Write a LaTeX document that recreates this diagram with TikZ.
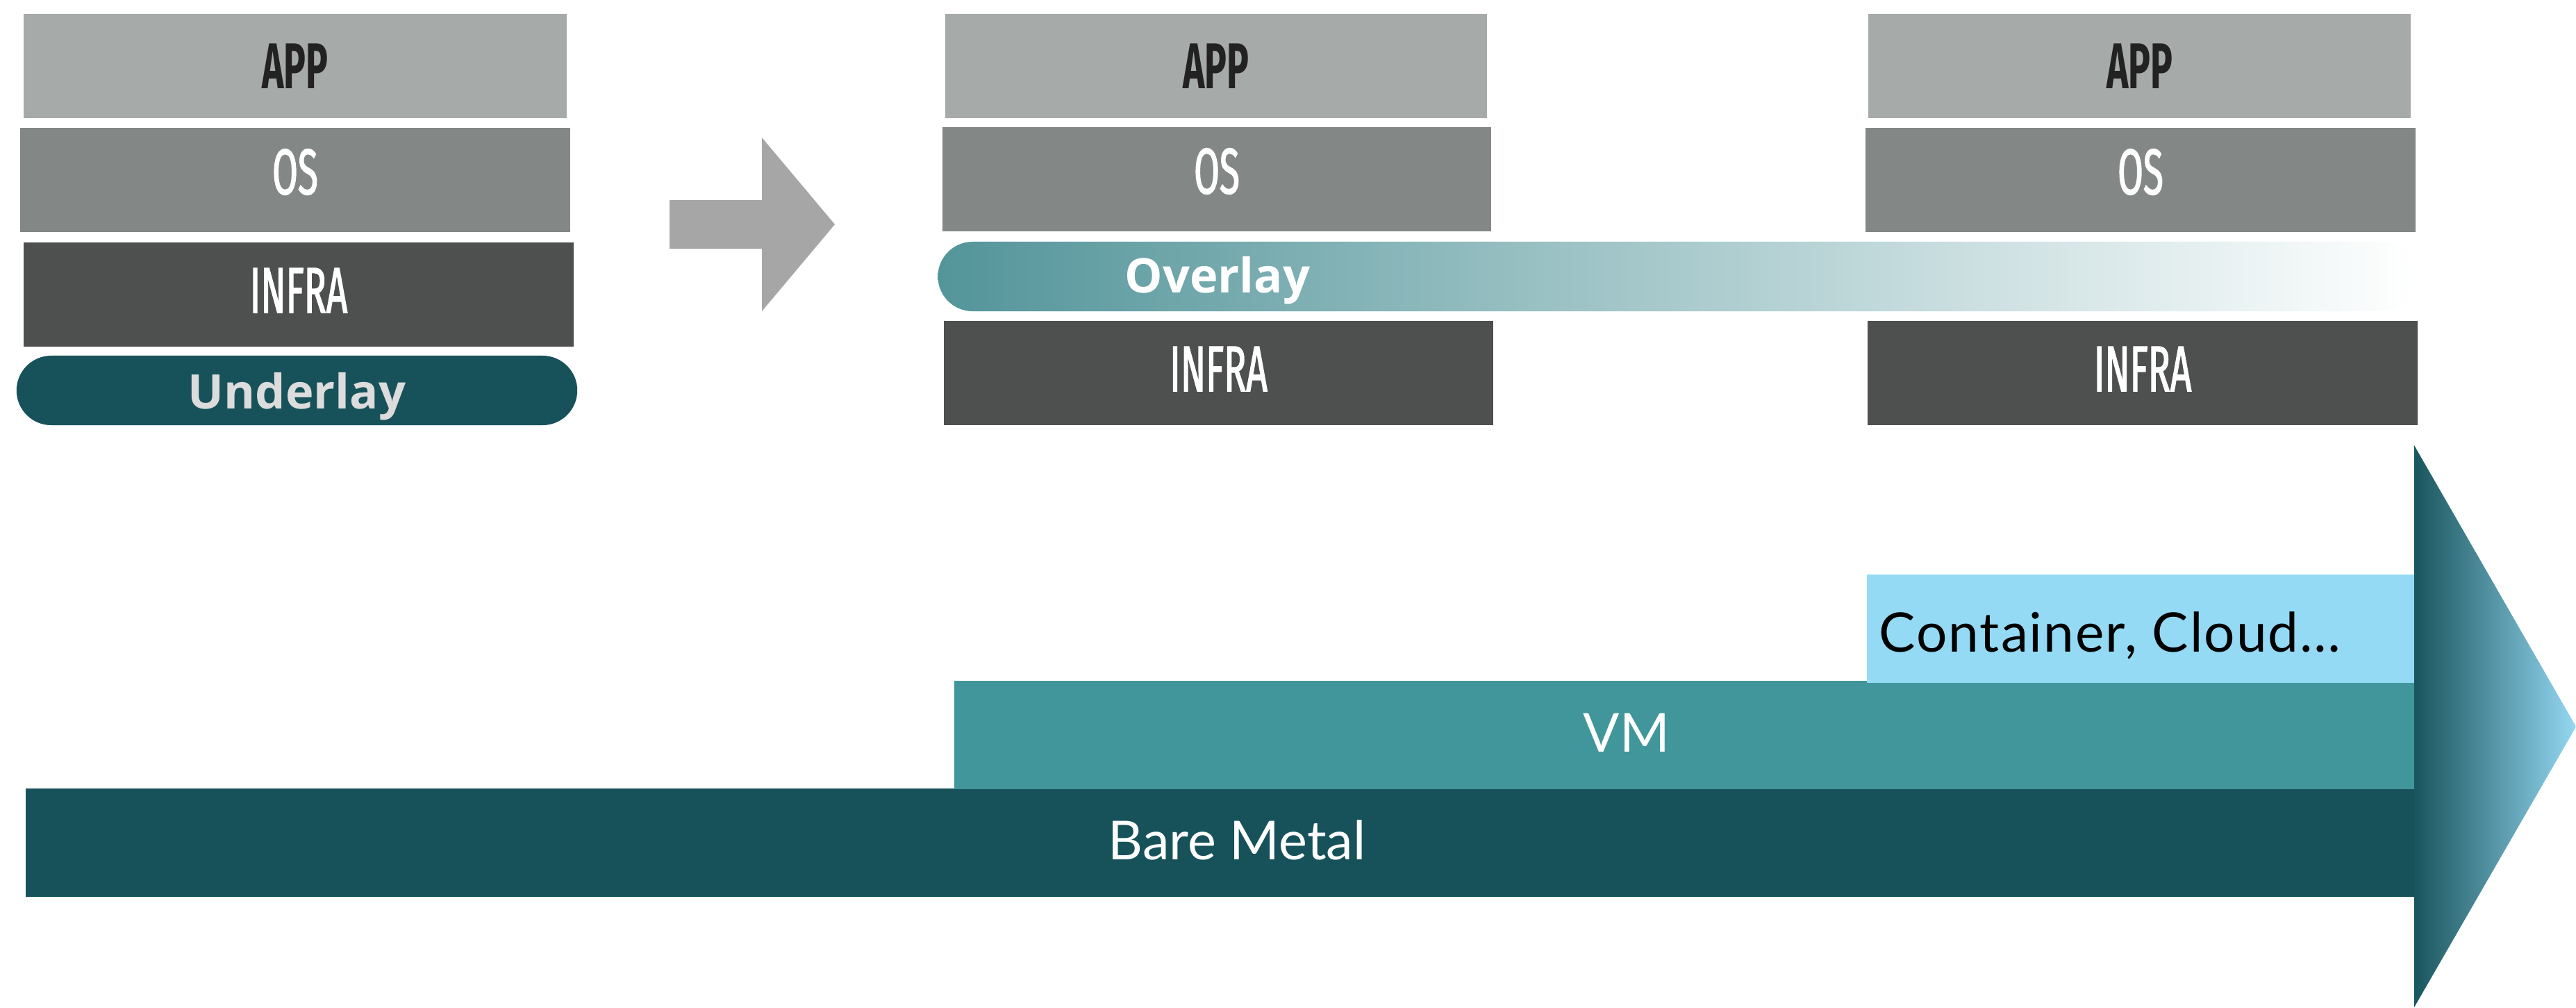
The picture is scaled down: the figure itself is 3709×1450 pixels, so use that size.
\documentclass[tikz,border=0pt]{standalone}
\usepackage{fontspec}
\setmainfont{Lato}
\newfontfamily\stackfont[FakeStretch=0.57]{Fira Sans}
\newfontfamily\stackmid[FakeStretch=0.57, FakeBold=1.4]{Fira Sans}
\newfontfamily\tagfont{Open Sans}
\usetikzlibrary{positioning}

\definecolor{appgrey}{HTML}{A6AAA9}
\definecolor{osgrey}{HTML}{838785}
\definecolor{infragrey}{HTML}{4E504F}
\definecolor{apptext}{HTML}{222222}
\definecolor{deepteal}{HTML}{17525A}
\definecolor{midteal}{HTML}{40969A}
\definecolor{skyblue}{HTML}{95DAF5}
\definecolor{stepgrey}{HTML}{A6A6A6}
\definecolor{overlayteal}{HTML}{53959A}
\definecolor{overlaymid}{HTML}{B6D3D5}
\definecolor{taggrey}{HTML}{DCDCDC}
\definecolor{headdark}{HTML}{1A555D}
\definecolor{headmid}{HTML}{4A8C9A}
\definecolor{headlight}{HTML}{93D7F1}

\tikzset{
  layerbox/.style={rectangle, inner sep=0pt, minimum height=1.5cm, text=white,
    font=\stackmid\fontsize{26.5pt}{26.5pt}\selectfont},
  applayer/.style={layerbox, fill=appgrey, text=apptext,
    font=\stackfont\bfseries\fontsize{26.5pt}{26.5pt}\selectfont},
  oslayer/.style={layerbox, fill=osgrey, text depth=0.24cm},
  infralayer/.style={layerbox, fill=infragrey, text depth=0.12cm},
  pill/.style={rectangle, rounded corners=0.5cm, minimum height=1cm, inner sep=0pt,
    text depth=0pt, font=\tagfont\bfseries\fontsize{19.5pt}{19.5pt}\selectfont},
  tagtext/.style={inner sep=0pt, font=\tagfont\bfseries\fontsize{19.5pt}{19.5pt}\selectfont},
  band/.style={rectangle, inner sep=0pt, minimum height=1.56cm},
  bandtext/.style={inner sep=0pt, anchor=base, text=white,
    font=\fontsize{22pt}{22pt}\selectfont},
}

\begin{document}
\begin{tikzpicture}[x=0.01cm, y=-0.01cm]
  \useasboundingbox (0,0) rectangle (3709,1450);

  % left stack: application on a physical underlay
  \node[applayer, minimum width=7.82cm] (appL) at (425,95) {APP};
  \node[oslayer, minimum width=7.92cm] (osL) at (425,259) {OS};
  \node[infralayer, minimum width=7.92cm] (infraL) at (430,424) {INFRA};
  \node[pill, minimum width=8.07cm, fill=deepteal, text=taggrey] (underlay) at (427.5,562) {Underlay};

  % transition arrow
  \fill[stepgrey] (964,288) -- (1097,288) -- (1097,198) -- (1202,323)
    -- (1097,448) -- (1097,358) -- (964,358) -- cycle;

  % overlay spanning the two stacks
  \node[pill, minimum width=21.27cm, left color=overlayteal, middle color=overlaymid,
    right color=white] (overlay) at (2414.5,398) {};
  \node[tagtext, text=white, anchor=base west] (overlaytext) at (1619,421) {Overlay};

  % middle stack
  \node[applayer, minimum width=7.79cm] (appM) at (1751,95) {APP};
  \node[oslayer, minimum width=7.90cm] (osM) at (1752,258) {OS};
  \node[infralayer, minimum width=7.91cm] (infraM) at (1754.5,537) {INFRA};

  % right stack
  \node[applayer, minimum width=7.81cm] (appR) at (3080.5,95) {APP};
  \node[oslayer, minimum width=7.92cm] (osR) at (3082,259) {OS};
  \node[infralayer, minimum width=7.91cm] (infraR) at (3085,537) {INFRA};

  % evolution bands
  \node[band, minimum width=34.38cm, fill=deepteal] (bare) at (1757,1213) {};
  \node[band, minimum width=21.03cm, fill=midteal] (vm) at (2426.5,1058) {};
  \node[band, minimum width=7.91cm, fill=skyblue] (container) at (3083.5,905) {};
  \node[bandtext] (baretext) at (1781,1237) {Bare Metal};
  \node[bandtext] (vmtext) at (2342,1082) {VM};
  \node[bandtext, text=black, anchor=base west,
    font=\addfontfeature{LetterSpace=2.5}\fontsize{22.3pt}{22.3pt}\selectfont]
    (containertext) at (2705,938) {Container, Cloud\ldots};

  % arrow head closing the bands
  \shade[left color=headdark, middle color=headmid, right color=headlight]
    (3476,641) -- (3709,1046) -- (3476,1450) -- cycle;
\end{tikzpicture}
\end{document}
